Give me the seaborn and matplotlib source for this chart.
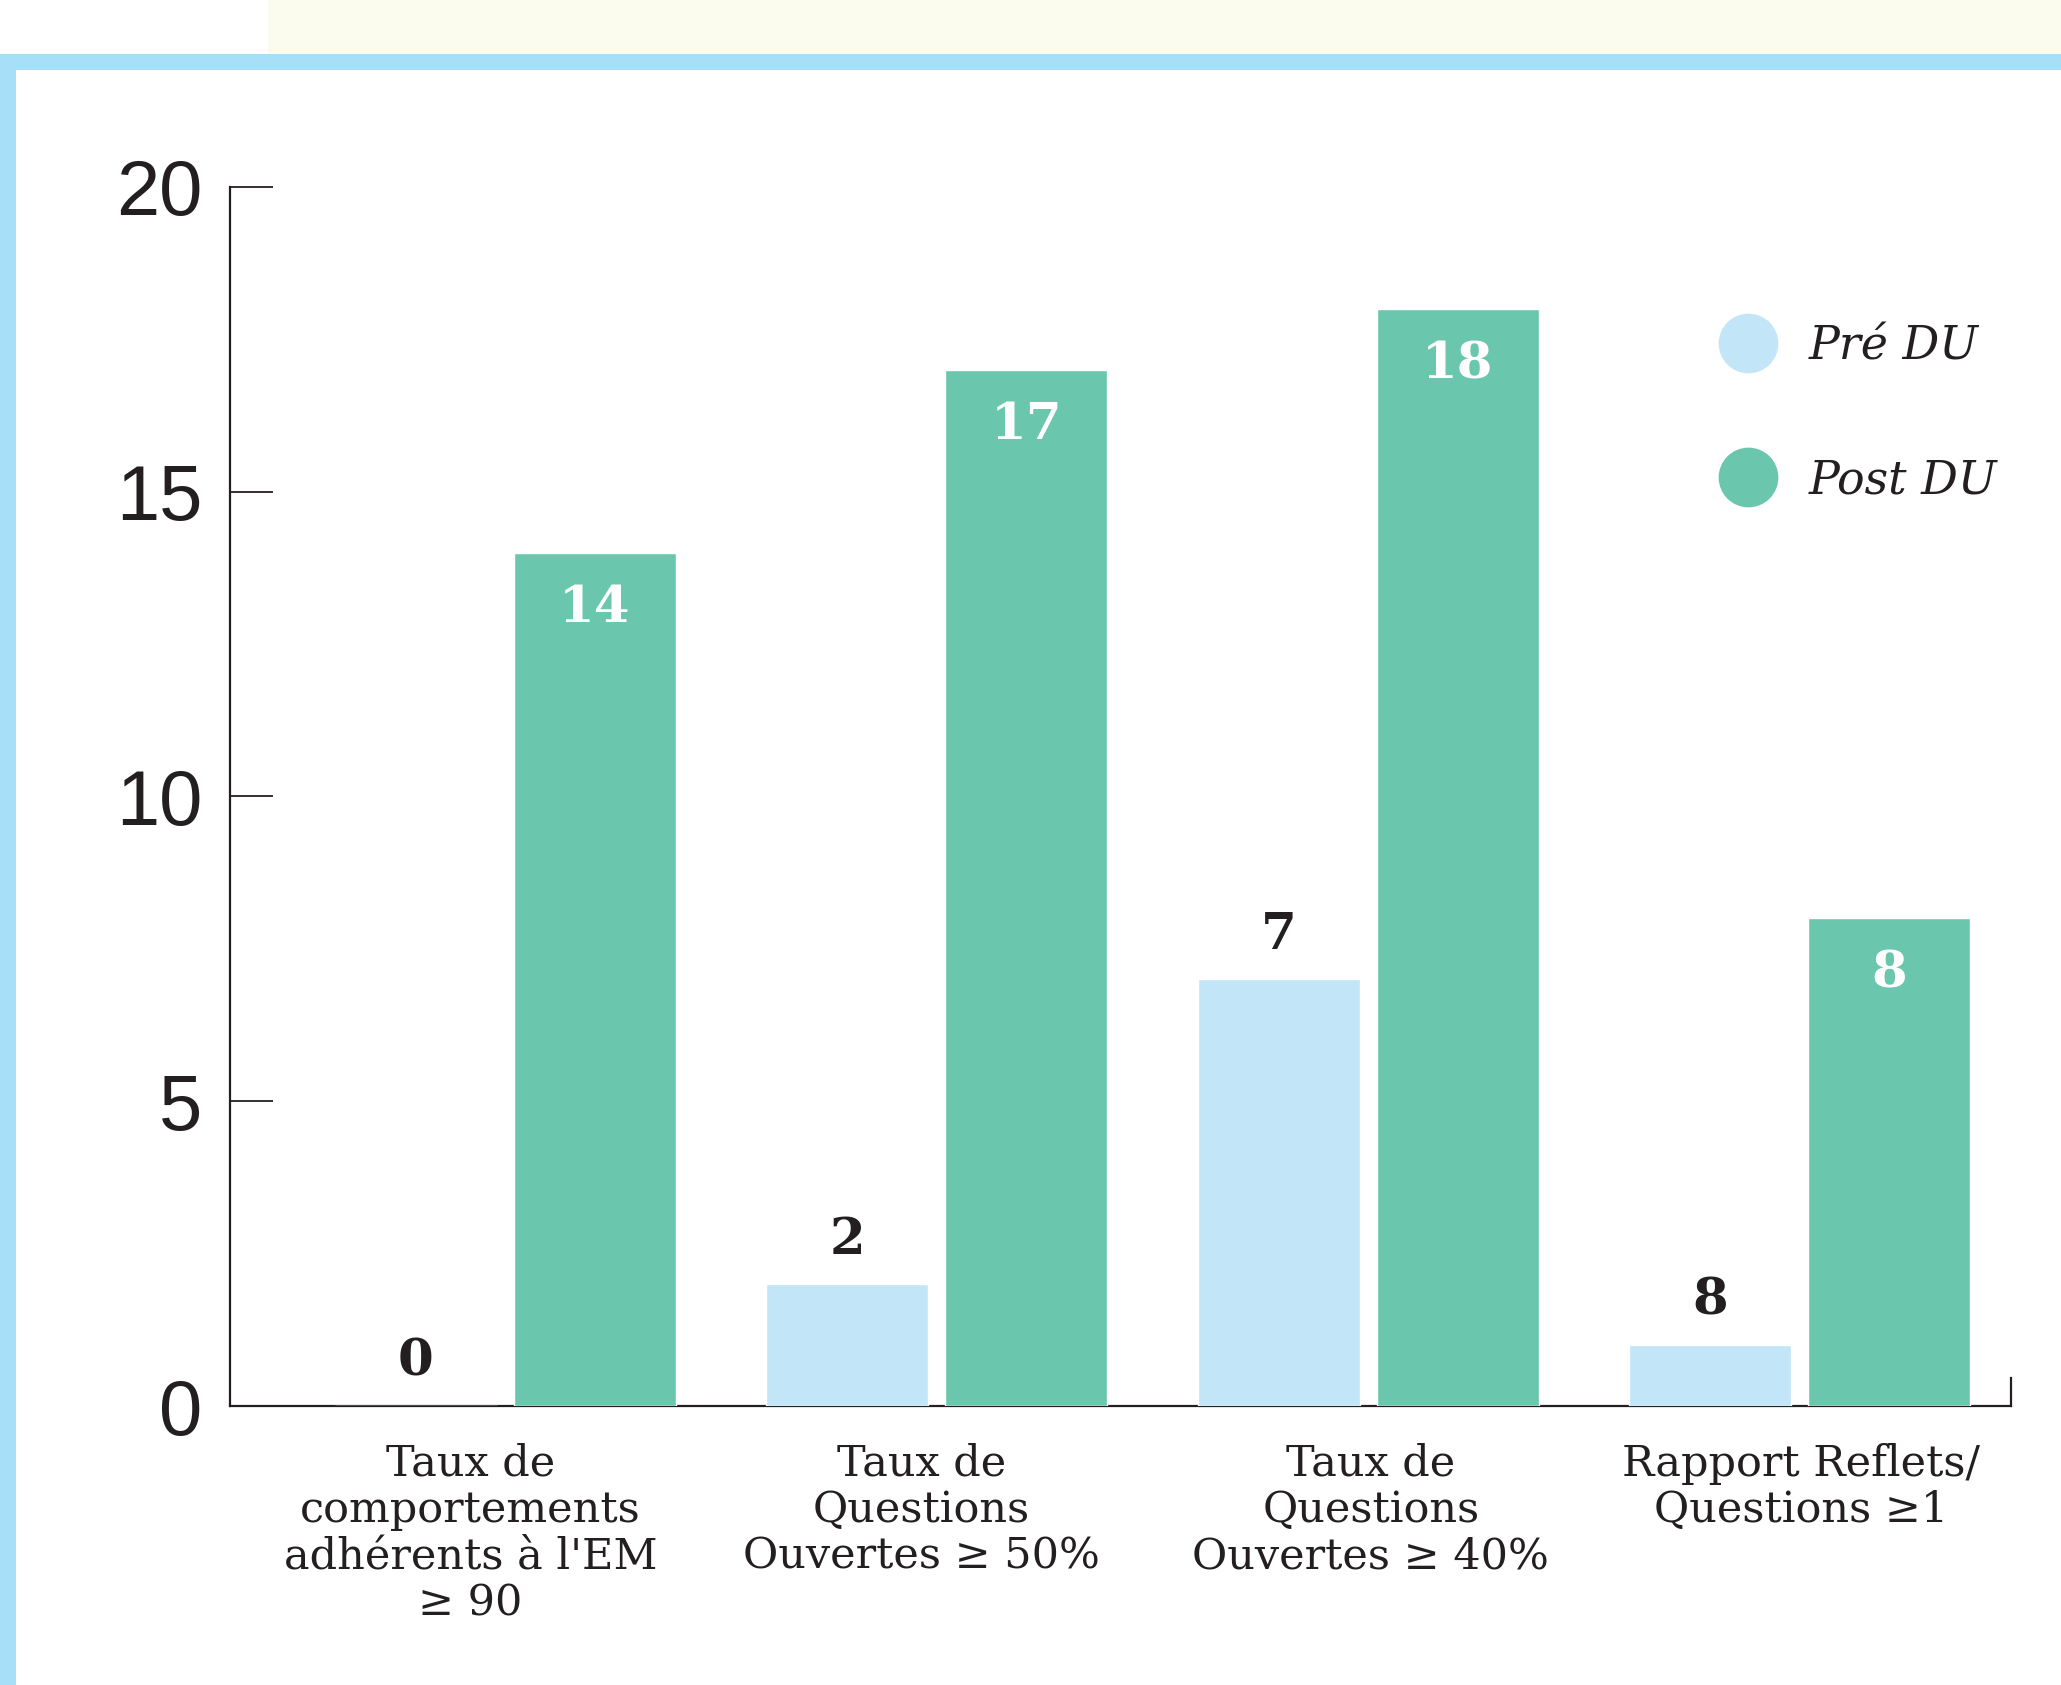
import matplotlib
matplotlib.use("Agg")
import matplotlib.pyplot as plt
import matplotlib.transforms as mtransforms
import seaborn as sns
import pandas as pd
from matplotlib.patches import Rectangle
from matplotlib.lines import Line2D
from matplotlib.font_manager import FontProperties

# --- data -------------------------------------------------------------
categories = [
    "Taux de\ncomportements\nadhérents à l'EM\n≥ 90",
    "Taux de\nQuestions\nOuvertes ≥ 50%",
    "Taux de\nQuestions\nOuvertes ≥ 40%",
    "Rapport Reflets/\nQuestions ≥1",
]
series = ["Pré DU", "Post DU"]
pre_du = [0, 2, 7, 1]
post_du = [14, 17, 18, 8]
pre_labels = ["0", "2", "7", "8"]
post_labels = ["14", "17", "18", "8"]
y_ticks = [0, 5, 10, 15, 20]

# --- style ------------------------------------------------------------
INK = "#231f20"
PRE_COLOR = "#c2e6f8"
POST_COLOR = "#6ac6ad"
FRAME_BLUE = "#a6dff7"
STRIP_YELLOW = "#fbfcee"

sns.set_style("white")
plt.rcParams["font.family"] = ["DejaVu Serif", "DejaVu Sans"]

W, H = 2061, 1685
fig = plt.figure(figsize=(W / 100, H / 100), dpi=100)
fig.patch.set_facecolor("white")

# page decorations: pale strip on top, light-blue frame
def px_rect(x0, y0, x1, y1, color):
    fig.patches.append(Rectangle((x0 / W, 1 - y1 / H), (x1 - x0) / W, (y1 - y0) / H,
                                 transform=fig.transFigure, facecolor=color,
                                 edgecolor="none", zorder=0))

px_rect(268, 0, W, 54, STRIP_YELLOW)
px_rect(0, 54, W, 70, FRAME_BLUE)
px_rect(0, 54, 16, H, FRAME_BLUE)

ax = fig.add_axes([230 / W, 1 - 1406.4 / H, (2011 - 230) / W, (1406.4 - 186.6) / H])
ax.set_facecolor("none")

df = pd.DataFrame({
    "categorie": categories * 2,
    "groupe": [series[0]] * len(pre_du) + [series[1]] * len(post_du),
    "valeur": pre_du + post_du,
})

sns.barplot(data=df, x="categorie", y="valeur", hue="groupe", hue_order=series,
            palette=[PRE_COLOR, POST_COLOR], saturation=1, width=0.83, gap=0.095,
            legend=False, ax=ax, zorder=3)

# value labels
label_font = dict(family="DejaVu Serif", weight="bold", size=37)
for rect, txt in zip(ax.containers[0], pre_labels):
    xc = rect.get_x() + rect.get_width() / 2
    ax.annotate(txt, (xc, rect.get_height()), xytext=(0, 22), textcoords="offset points",
                ha="center", va="baseline", color=INK, zorder=5, **label_font)
for rect, txt in zip(ax.containers[1], post_labels):
    xc = rect.get_x() + rect.get_width() / 2
    ax.annotate(txt, (xc, rect.get_height()), xytext=(0, -50), textcoords="offset points",
                ha="center", va="baseline", color="white", zorder=5, **label_font)

# axes
ax.set_ylim(0, 20)
ax.set_xlim(-0.638, 3.49)
ax.set_yticks(y_ticks)
ax.set_xlabel("")
ax.set_ylabel("")

ax.spines["top"].set_visible(False)
for side in ["left", "bottom", "right"]:
    ax.spines[side].set_color(INK)
    ax.spines[side].set_linewidth(1.6)
ax.spines["right"].set_bounds(0, 0.47)

ax.tick_params(axis="y", left=True, right=False, direction="in", length=31, width=1.3,
               color=INK, pad=20, labelsize=56, labelcolor=INK)
for lab in ax.get_yticklabels():
    lab.set_fontfamily(["Liberation Sans", "DejaVu Sans"])

ax.tick_params(axis="x", bottom=False, length=0, pad=26, labelsize=31, labelcolor=INK)
# small horizontal nudges of the category captions (in points)
caption_shift = [-25, -11, 2, 1]
for lab, dx in zip(ax.get_xticklabels(), caption_shift):
    lab.set_fontfamily("DejaVu Serif")
    lab.set_linespacing(1.14)
    lab.set_transform(lab.get_transform() +
                      mtransforms.ScaledTranslation(dx / 72, 0, fig.dpi_scale_trans))

# legend
handles = [Line2D([], [], marker="o", linestyle="", markersize=43,
                  markerfacecolor=c, markeredgewidth=0)
           for c in (PRE_COLOR, POST_COLOR)]
fig.legend(handles, series, loc="center left", bbox_to_anchor=(0.8348, 0.7546),
           frameon=False, prop=FontProperties(family="DejaVu Serif", style="italic", size=33),
           handlelength=1.2, handletextpad=0.73, labelspacing=1.94,
           borderpad=0, borderaxespad=0, labelcolor=INK)

fig.savefig("out.png", dpi=100, facecolor="white")
